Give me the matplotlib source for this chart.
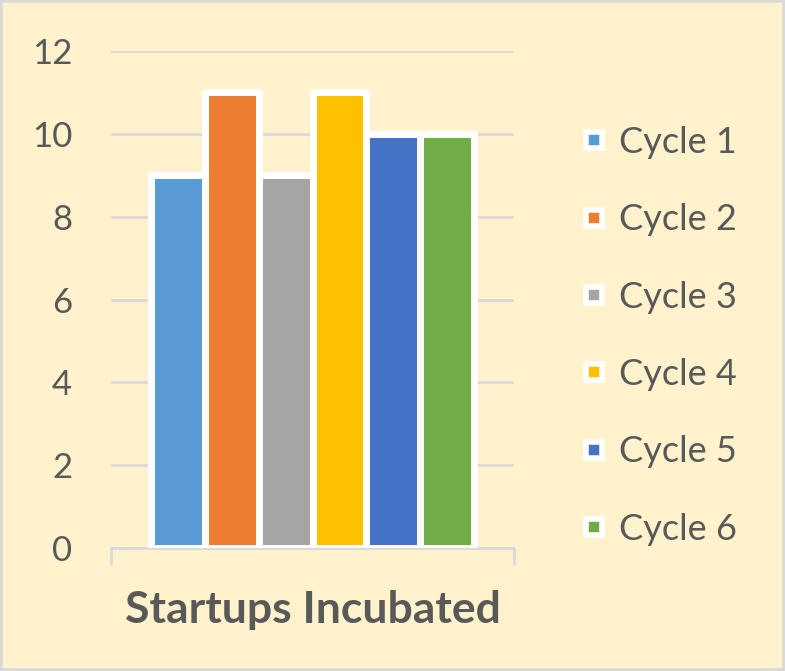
import matplotlib.pyplot as plt
from matplotlib.lines import Line2D

# Data
category = 'Startups Incubated'
series = ['Cycle 1', 'Cycle 2', 'Cycle 3', 'Cycle 4', 'Cycle 5', 'Cycle 6']
values = [9, 11, 9, 11, 10, 10]
colors = ['#5B9BD5', '#ED7D31', '#A5A5A5', '#FFC000', '#4472C4', '#70AD47']

bg = '#FFF2CC'
grid_c = '#D9D9D9'
text_c = '#595959'

plt.rcParams['font.family'] = ['Lato', 'DejaVu Sans']

fig = plt.figure(figsize=(7.85, 6.71), dpi=100, facecolor=bg)
ax = fig.add_axes([0.1414, 0.1833, 0.5134, 0.7407])
ax.set_facecolor(bg)

# Bars, grouped around the single category
n = len(series)
group_w = 0.8
bar_w = group_w / n
for i, (name, v, c) in enumerate(zip(series, values, colors)):
    x = (i - (n - 1) / 2) * bar_w
    ax.bar(x, v, width=bar_w, color=c, edgecolor='white', linewidth=5,
           joinstyle='round', label=name, zorder=3)

ax.set_xlim(-0.5, 0.5)
ax.set_ylim(0, 12)
ax.set_yticks(range(0, 13, 2))
ax.yaxis.grid(True, color=grid_c, linewidth=2)
ax.set_axisbelow(True)
ax.tick_params(axis='y', length=0, labelsize=25, labelcolor=text_c, pad=28)

for s in ['left', 'right', 'top']:
    ax.spines[s].set_visible(False)
ax.spines['bottom'].set_color(grid_c)
ax.spines['bottom'].set_linewidth(2)

ax.set_xticks([-0.5, 0.5])
ax.set_xticklabels(['', ''])
ax.tick_params(axis='x', which='major', length=12, width=2, color=grid_c)
ax.set_xticks([0], minor=True)
ax.set_xticklabels([category], minor=True, fontsize=32, fontweight='bold', color=text_c)
ax.tick_params(axis='x', which='minor', length=0, pad=30)

handles = [Line2D([], [], linestyle='none', marker='s', markersize=12,
                  markerfacecolor=c, markeredgecolor='white', markeredgewidth=4)
           for c in colors]
fig.legend(handles, series, loc='upper left', bbox_to_anchor=(0.72, 0.834),
           frameon=False, fontsize=26, labelcolor=text_c, labelspacing=1.23,
           handletextpad=0.3, handlelength=0.8, borderaxespad=0)

# Border
fig.patches.append(plt.Rectangle((0, 0), 1, 1, transform=fig.transFigure,
                                 fill=False, edgecolor=grid_c, linewidth=4))

fig.savefig('out.png', dpi=100, facecolor=bg)
